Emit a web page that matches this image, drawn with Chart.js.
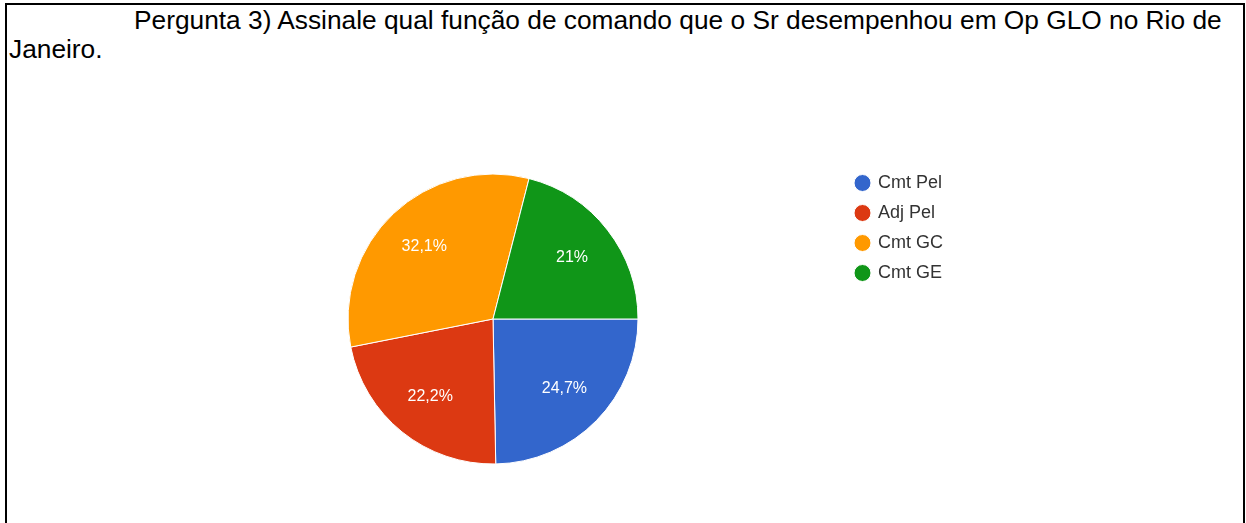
<!DOCTYPE html>
<html>
<head>
<meta charset="utf-8">
<script src="https://cdn.jsdelivr.net/npm/chart.js@4.4.0/dist/chart.umd.min.js"></script>
<style>
  body { margin: 0; background: #fff; }
  #page { position: relative; width: 1246px; height: 523px; overflow: hidden; }
  .box {
    position: absolute; left: 5px; top: 3px; width: 1236px; height: 540px;
    border: 2px solid #000;
  }
  .question {
    position: absolute; left: 9px; top: 6px; width: 1230px;
    font-family: "Liberation Sans", Arial, sans-serif; font-size: 26.3px;
    line-height: 29px; color: #000; text-indent: 125px;
  }
  #chart { position: absolute; left: 0; top: 0; }
</style>
</head>
<body>
<div id="page">
  <div class="box"></div>
  <div class="question">Pergunta 3) Assinale qual função de comando que o Sr desempenhou em Op GLO no Rio de Janeiro.</div>
  <canvas id="chart" width="1246" height="523"></canvas>
</div>
<script>
var categories = ['Cmt Pel', 'Adj Pel', 'Cmt GC', 'Cmt GE'];
var percentages = [24.7, 22.2, 32.1, 21];
var sliceColors = ['#3366cc', '#dc3912', '#ff9900', '#109618'];

// write the percentage inside each slice, google-forms style
var sliceLabels = {
  id: 'sliceLabels',
  afterDatasetsDraw: function(chart) {
    var ctx = chart.ctx;
    var meta = chart.getDatasetMeta(0);
    ctx.save();
    ctx.font = '16px "Liberation Sans", Arial, sans-serif';
    ctx.fillStyle = '#ffffff';
    ctx.textAlign = 'center';
    ctx.textBaseline = 'middle';
    meta.data.forEach(function(arc, i) {
      var p = arc.getProps(['x', 'y', 'startAngle', 'endAngle', 'outerRadius'], true);
      var mid = (p.startAngle + p.endAngle) / 2;
      var r = p.outerRadius * 0.69;
      var txt = String(percentages[i]).replace('.', ',') + '%';
      ctx.fillText(txt, p.x + Math.cos(mid) * r, p.y + Math.sin(mid) * r);
    });
    ctx.restore();
  }
};

var ctx = document.getElementById('chart');

var myPieChart = new Chart(ctx, {
  type: 'pie',
  data: {
    labels: categories,
    datasets: [{
      data: percentages,
      backgroundColor: sliceColors,
      borderColor: '#ffffff',
      borderWidth: 1,
      radius: 145
    }]
  },
  options: {
    responsive: false,
    animation: false,
    devicePixelRatio: 1,
    rotation: 90,
    layout: {
      padding: { left: 142, right: 293, top: 162, bottom: 47 }
    },
    plugins: {
      tooltip: { enabled: false },
      legend: {
        position: 'right',
        align: 'start',
        labels: {
          usePointStyle: true,
          pointStyle: 'circle',
          boxWidth: 13,
          boxHeight: 12,
          padding: 12,
          color: '#333333',
          font: { family: '"Liberation Sans", Arial, sans-serif', size: 18 }
        }
      }
    }
  },
  plugins: [sliceLabels]
});
</script>
</body>
</html>
